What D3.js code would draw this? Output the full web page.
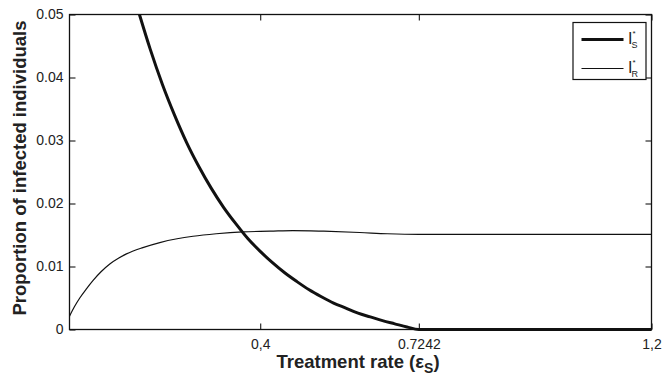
<!DOCTYPE html>
<html>
<head>
<meta charset="utf-8">
<script src="https://cdn.jsdelivr.net/npm/d3@7"></script>
<style>
  html, body { margin: 0; padding: 0; background: #fff; }
  svg { display: block; font-family: "Liberation Sans", Arial, Helvetica, sans-serif; }
</style>
</head>
<body>
<svg id="chart" width="664" height="382"></svg>
<script>
// Treatment rate (epsilon_S) samples and equilibrium proportions
const xS = [0.153, 0.175, 0.2, 0.225, 0.25, 0.275, 0.3, 0.325, 0.35, 0.375, 0.4, 0.425, 0.45, 0.475, 0.5, 0.525, 0.55, 0.575, 0.6, 0.625, 0.65, 0.675, 0.7, 0.7242, 1.2];
const iS = [0.0500, 0.0445, 0.0389, 0.0340, 0.0296, 0.0258, 0.0224, 0.0194, 0.0168, 0.0144, 0.0124, 0.0106, 0.0090, 0.0076, 0.0063, 0.0052, 0.0042, 0.0034, 0.0026, 0.0020, 0.0014, 0.0009, 0.0004, 0.0, 0.0];

const xR = [0.01, 0.02, 0.031, 0.045, 0.0583, 0.075, 0.0924, 0.11, 0.1265, 0.16, 0.1946, 0.23, 0.2626, 0.31, 0.3647, 0.42, 0.4667, 0.53, 0.6033, 0.66, 0.7242, 0.9, 1.2];
const iR = [0.0021, 0.0036, 0.0050, 0.0065, 0.0078, 0.0092, 0.0104, 0.0113, 0.0120, 0.0130, 0.0138, 0.0144, 0.0148, 0.0152, 0.0155, 0.0156, 0.0157, 0.0156, 0.0154, 0.0152, 0.0151, 0.0151, 0.0151];

const yTicks = [0, 0.01, 0.02, 0.03, 0.04, 0.05];
const yTickLabels = ["0", "0.01", "0.02", "0.03", "0.04", "0.05"];
const xTicks = [0.4, 0.7242, 1.2];
const xTickLabels = ["0,4", "0.7242", "1,2"];

const svg = d3.select("#chart");
const L = 69.5, R = 651.5, T = 14.5, B = 329.5;

const x = d3.scaleLinear().domain([0.01, 1.2]).range([L, R]);
const y = d3.scaleLinear().domain([0, 0.05]).range([B, T]);

const tickLen = 6;
const tickFont = "Liberation Sans, Arial, sans-serif";

// Bottom axis with inward ticks
svg.append("g")
  .attr("transform", `translate(0,${B})`)
  .call(d3.axisBottom(x).tickValues(xTicks).tickSizeInner(-tickLen).tickSizeOuter(0)
        .tickPadding(9.5).tickFormat((d, i) => xTickLabels[i]))
  .call(g => g.select(".domain").remove())
  .call(g => g.selectAll("line").attr("stroke", "#000").attr("stroke-width", 1))
  .call(g => g.selectAll("text").attr("fill", "#222").attr("font-size", 14).attr("font-family", tickFont));

// Top axis mirror ticks
svg.append("g")
  .attr("transform", `translate(0,${T})`)
  .call(d3.axisTop(x).tickValues(xTicks).tickSizeInner(-tickLen).tickSizeOuter(0).tickFormat(""))
  .call(g => g.select(".domain").remove())
  .call(g => g.selectAll("line").attr("stroke", "#000").attr("stroke-width", 1));

// Left axis with inward ticks
svg.append("g")
  .attr("transform", `translate(${L},0)`)
  .call(d3.axisLeft(y).tickValues(yTicks).tickSizeInner(-tickLen).tickSizeOuter(0)
        .tickPadding(6).tickFormat((d, i) => yTickLabels[i]))
  .call(g => g.select(".domain").remove())
  .call(g => g.selectAll("line").attr("stroke", "#000").attr("stroke-width", 1))
  .call(g => g.selectAll("text").attr("fill", "#222").attr("font-size", 14).attr("font-family", tickFont));

// Right axis mirror ticks
svg.append("g")
  .attr("transform", `translate(${R},0)`)
  .call(d3.axisRight(y).tickValues(yTicks).tickSizeInner(-tickLen).tickSizeOuter(0).tickFormat(""))
  .call(g => g.select(".domain").remove())
  .call(g => g.selectAll("line").attr("stroke", "#000").attr("stroke-width", 1));

// Plot box
svg.append("rect")
  .attr("x", L).attr("y", T).attr("width", R - L).attr("height", B - T)
  .attr("fill", "none").attr("stroke", "#111").attr("stroke-width", 1.3);

const line = d3.line().x(d => x(d[0])).y(d => y(d[1])).curve(d3.curveMonotoneX);

// I_R* (thin)
svg.append("path")
  .datum(xR.map((v, i) => [v, iR[i]]))
  .attr("d", line)
  .attr("fill", "none").attr("stroke", "#111").attr("stroke-width", 1.2);

// I_S* (thick)
svg.append("path")
  .datum(xS.map((v, i) => [v, iS[i]]))
  .attr("d", line)
  .attr("fill", "none").attr("stroke", "#111").attr("stroke-width", 3);

// Legend
const lg = svg.append("g");
lg.append("rect")
  .attr("x", 573).attr("y", 22.5).attr("width", 73).attr("height", 57)
  .attr("fill", "#fff").attr("stroke", "#111").attr("stroke-width", 1.2);

const legendItems = [
  { sub: "S", width: 3, yy: 39.5 },
  { sub: "R", width: 1.2, yy: 68.5 }
];
legendItems.forEach(it => {
  lg.append("line")
    .attr("x1", 581.5).attr("x2", 623.5).attr("y1", it.yy).attr("y2", it.yy)
    .attr("stroke", "#111").attr("stroke-width", it.width);
  const t = lg.append("text")
    .attr("x", 628).attr("y", it.yy + 4)
    .attr("font-size", 16).attr("fill", "#222");
  t.append("tspan").text("I");
  t.append("tspan").attr("font-size", 8).attr("dx", 0).attr("dy", -8).text("*");
  t.append("tspan").attr("font-size", 9).attr("dx", -4).attr("dy", 12).text(it.sub);
});

// Axis titles
svg.append("text")
  .attr("transform", `translate(26,${(T + B) / 2 - 4}) rotate(-90)`)
  .attr("text-anchor", "middle")
  .attr("font-size", 18.5).attr("font-weight", "bold").attr("fill", "#222")
  .text("Proportion of infected individuals");

const xt = svg.append("text")
  .attr("x", 358).attr("y", 368)
  .attr("text-anchor", "middle")
  .attr("font-size", 18.5).attr("font-weight", "bold").attr("fill", "#222");
xt.append("tspan").text("Treatment rate (ε");
xt.append("tspan").attr("dy", 5).attr("font-size", 14).text("S");
xt.append("tspan").attr("dy", -5).text(")");
</script>
</body>
</html>
